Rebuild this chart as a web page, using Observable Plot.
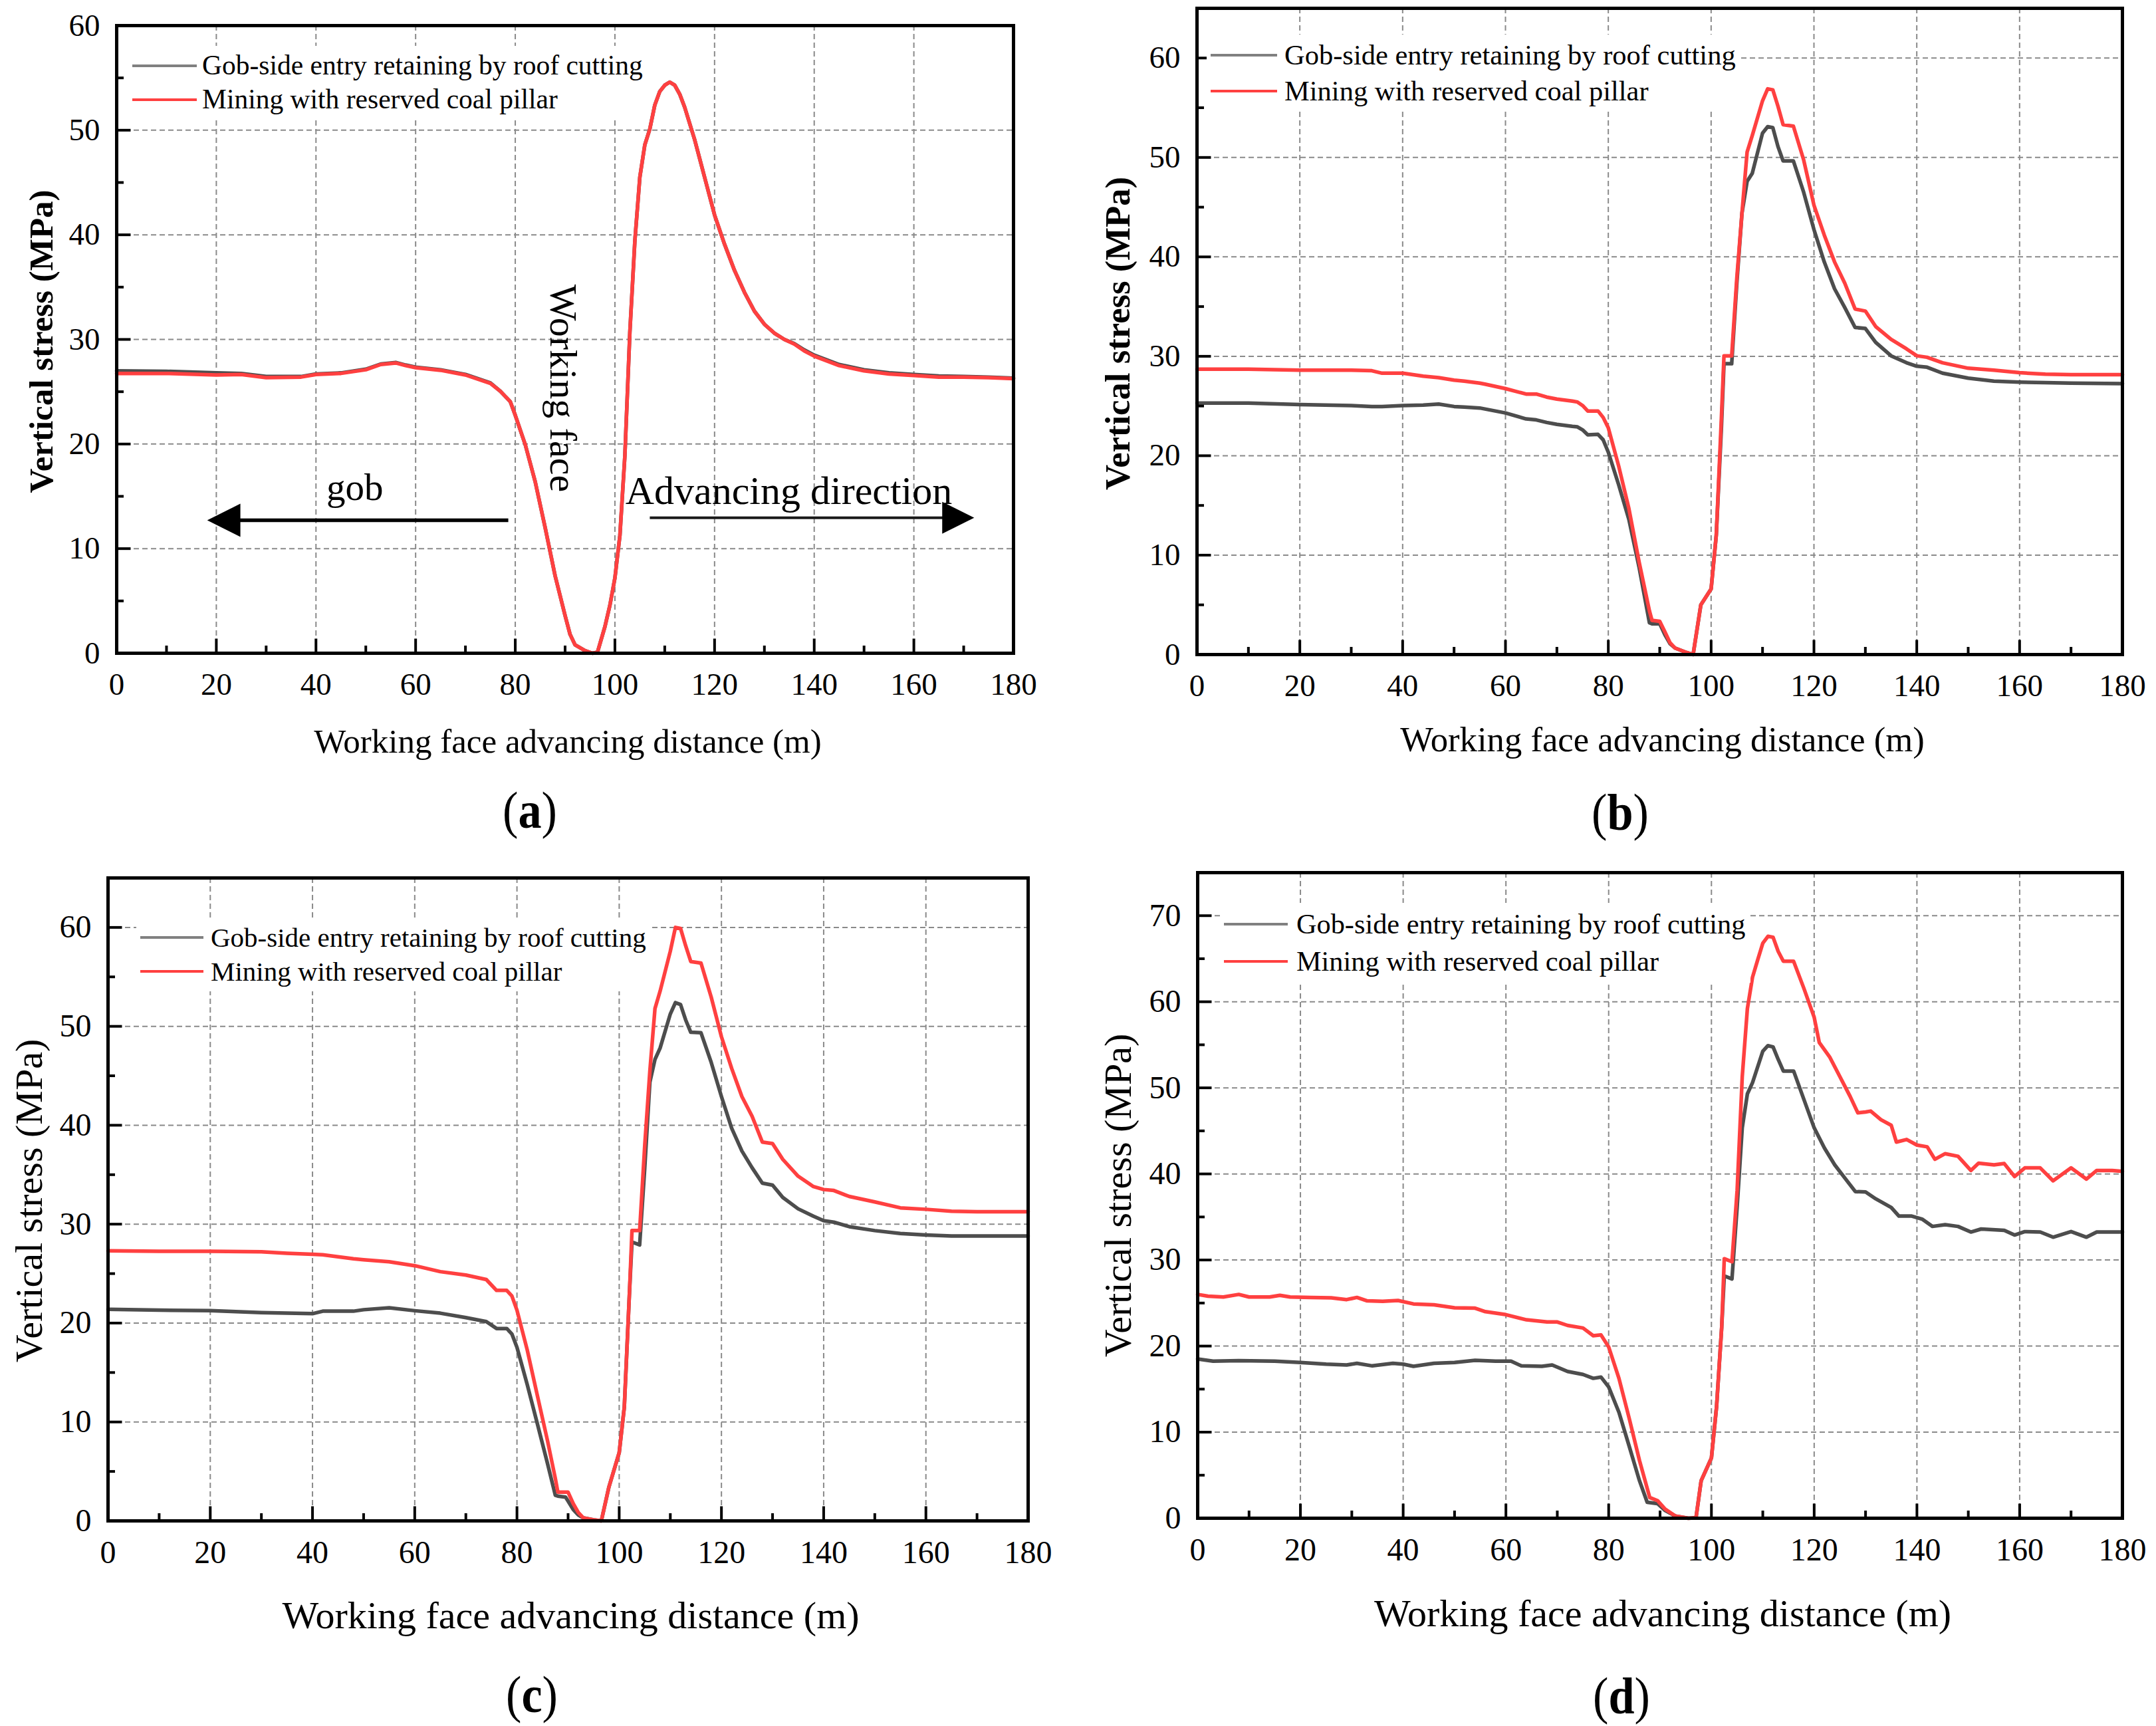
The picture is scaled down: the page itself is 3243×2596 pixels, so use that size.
<!DOCTYPE html>
<html><head><meta charset="utf-8">
<script src="https://cdn.jsdelivr.net/npm/d3@7"></script>
<script src="https://cdn.jsdelivr.net/npm/@observablehq/plot@0.6"></script>
<style>
html,body{margin:0;padding:0;background:#fff;}
#fig{position:relative;width:3243px;height:2596px;overflow:hidden;background:#fff;font-family:"Liberation Serif","Times New Roman",serif;color:#000;}
.panel{position:absolute;}
.legend{position:absolute;background:#fff;padding:4px 8px 4px 6px;}
.row{display:flex;align-items:center;}
.sw{flex:none;}
.lt{line-height:1;white-space:nowrap;}
.plabel{position:absolute;line-height:1;white-space:nowrap;transform:translateX(-50%) scaleX(0.9);}
</style>
</head><body><div id="fig"></div>
<script>
// ---------- shared axis values / texts ----------
const xTickValues = [0,20,40,60,80,100,120,140,160,180];
const xMinorValues = [10,30,50,70,90,110,130,150,170];
const xTitle = "Working face advancing distance (m)";
const yTitle = "Vertical stress (MPa)";
const seriesNames = ["Gob-side entry retaining by roof cutting", "Mining with reserved coal pillar"];
const panelLetters = ["a","b","c","d"];

const yTicksA = [0,10,20,30,40,50,60];
const yTicksB = [0,10,20,30,40,50,60];
const yTicksC = [0,10,20,30,40,50,60];
const yTicksD = [0,10,20,30,40,50,60,70];
const yMinorA = [5,15,25,35,45,55];
const yMinorB = [5,15,25,35,45,55];
const yMinorC = [5,15,25,35,45,55];
const yMinorD = [5,15,25,35,45,55,65];
const yDomainA = [0,60], yDomainB = [0,65], yDomainC = [0,65], yDomainD = [0,75];

// ---------- panel (a) ----------
const aX = [0,10,20,25,30,37,40,45,50,53,56,58,60,65,70,75,77,79,80,82,84,86,88,90,91,92,94,95.5,96.5,98,99,100,101,102,103,104,105,106,107,108,109,110,111,112,113,114,116,118,120,122,124,126,128,130,132,134,136,138,140,145,150,155,160,165,170,175,180];
const aGob = [27.0,26.95,26.8,26.75,26.45,26.45,26.7,26.8,27.15,27.65,27.8,27.55,27.35,27.1,26.65,25.85,25.05,24.05,22.75,19.95,16.4,12.0,7.4,3.6,1.8,0.8,0.25,0,0.1,2.55,4.6,7.2,11.25,18.9,30.7,39.4,45.5,48.6,50.1,52.4,53.7,54.3,54.6,54.3,53.45,52.2,49.1,45.5,41.9,39.1,36.6,34.5,32.7,31.45,30.6,30.0,29.6,29.0,28.5,27.6,27.1,26.8,26.65,26.5,26.45,26.4,26.3];
const aPillar = [26.75,26.75,26.6,26.65,26.35,26.4,26.65,26.75,27.1,27.6,27.75,27.5,27.3,27.05,26.6,25.8,25.05,24.05,22.75,19.95,16.4,12.0,7.4,3.6,1.8,0.8,0.25,0,0.1,2.55,4.6,7.2,11.25,18.9,30.7,39.4,45.5,48.6,50.1,52.4,53.7,54.3,54.6,54.3,53.45,52.2,49.1,45.5,41.9,39.1,36.6,34.5,32.7,31.45,30.6,30.0,29.55,28.9,28.4,27.5,27.0,26.7,26.55,26.4,26.4,26.35,26.25];
// annotations of (a), in data units
const aNoteText = ["Working face","gob","Advancing direction"];
const aNoteX = [89.5, 47.8, 134.9];
const aNoteY = [25.33, 14.64, 14.3];
const aArrowFrom = [78.6, 107.0];
const aArrowTo = [21.5, 168.9];
const aArrowY = [12.71, 12.95];

// ---------- panel (b) ----------
const bX = [0,10,20,30,34,36,40,44,47,50,52,55,56,60,64,66,68,70,73,74,75,76,78,79,80,82,84,86,88,88.5,90,91,92,93,95,96.5,98,100,101,102,102.5,104,105,106,107,108,110,111,112,113,114,116,118,120,122,124,126,128,130,132,135,138,140,142,145,150,155,160,165,170,180];
const bGob = [25.3,25.3,25.15,25.05,24.95,24.95,25.05,25.1,25.2,24.95,24.9,24.8,24.7,24.3,23.7,23.6,23.35,23.15,22.95,22.9,22.6,22.1,22.15,21.6,20.35,17.1,13.6,8.75,3.2,3.1,3.1,2.0,1.1,0.65,0.25,0,5.0,6.6,12.0,22.8,29.25,29.25,37.35,44.4,47.6,48.4,52.45,53.1,53.0,51.1,49.65,49.65,46.5,42.75,39.5,36.8,34.9,32.9,32.8,31.4,30.05,29.35,29.0,28.9,28.3,27.8,27.5,27.4,27.35,27.3,27.25];
const bPillar = [28.7,28.7,28.6,28.6,28.55,28.3,28.3,28.0,27.85,27.6,27.5,27.3,27.2,26.75,26.2,26.2,25.9,25.7,25.5,25.4,25.05,24.5,24.5,23.85,22.8,19.0,14.7,9.3,4.4,3.45,3.35,2.3,1.2,0.65,0.25,0,5.0,6.6,12.0,23.85,30.05,30.05,37.9,44.4,50.55,52.2,55.7,56.9,56.8,55.15,53.3,53.15,49.75,45.2,42.2,39.5,37.35,34.75,34.55,33.0,31.7,30.75,30.05,29.9,29.35,28.8,28.6,28.35,28.2,28.15,28.15];

// ---------- panel (c) ----------
const cX = [0,10,20,30,35,40,42,45,48,50,55,60,65,70,74,76,78,79,80,82,84,86,87.5,88,89.5,90,91,92,93,95,96.5,98,100,101,102,102.5,104,105,106,107,108,110,111,112,113,114,116,118,120,122,124,126,128,130,132,135,138,140,142,145,150,155,160,165,170,180];
const cGob = [21.4,21.3,21.25,21.05,21.0,20.95,21.2,21.2,21.2,21.35,21.55,21.25,21.0,20.55,20.15,19.45,19.45,18.9,17.55,13.8,9.8,5.75,2.6,2.5,2.4,2.0,1.15,0.6,0.3,0.1,0,3.45,6.9,11.5,23.0,28.2,27.9,35.7,44.35,46.65,47.8,51.25,52.4,52.2,50.65,49.4,49.35,46.35,42.9,39.7,37.4,35.7,34.15,33.95,32.7,31.55,30.8,30.35,30.2,29.75,29.35,29.05,28.9,28.8,28.8,28.8];
const cPillar = [27.3,27.25,27.25,27.2,27.05,26.95,26.9,26.7,26.5,26.4,26.2,25.8,25.2,24.85,24.4,23.3,23.3,22.75,21.3,17.3,12.65,8.05,4.3,2.9,2.9,2.9,1.75,0.85,0.3,0.1,0,3.45,6.9,11.5,23.0,29.35,29.35,38.0,45.5,51.8,53.55,57.6,60.0,59.9,58.15,56.55,56.4,52.95,48.95,45.75,42.9,40.9,38.3,38.15,36.55,34.85,33.8,33.5,33.4,32.8,32.25,31.65,31.5,31.3,31.25,31.25];

// ---------- panel (d) ----------
const dGobX = [0,3,8,15,20,25,29,31,34,38,40,42,46,50,54,58,61,63,67,69,72,75,77,78.5,80,82,84,86,87.5,89.5,91,93,95.5,97,98,100,101,102,102.5,104,105,106,107,108,110,111,112,113,114,116,118,120,122,124,126,128,130,132,135,136.5,139,141,143,145.5,148,150.5,152.5,157,159,161,164,166.5,170,173,175,180];
const dGob = [18.5,18.25,18.3,18.25,18.1,17.9,17.8,18.0,17.7,18.0,17.9,17.65,18.0,18.1,18.35,18.25,18.25,17.7,17.65,17.8,17.05,16.7,16.25,16.4,15.25,12.3,8.35,4.35,1.85,1.7,0.9,0.25,0,0.05,4.35,7.0,12.95,22.2,28.15,27.8,36.1,45.35,49.3,50.6,54.25,54.9,54.75,53.3,51.95,51.95,48.65,45.35,43.0,41.05,39.5,37.95,37.9,37.1,36.1,35.1,35.1,34.75,33.9,34.1,33.9,33.25,33.6,33.45,32.9,33.3,33.25,32.65,33.3,32.65,33.25,33.25];
const dPillarX = [0,2,5,8,10,14,16,18,22,26,29,31,33,36,39,42,46,50,54,56,60,64,68,70,72,75,77,78.5,80,82,84,86,88,89.5,91,93,95.5,97,98,100,101,102,102.5,104,105,106,107,108,109,110,111,112,113,114,116,118,120,121,123,125,127,128.5,130,131,133,135,136,138,140,142,143.5,145.5,148,150.5,152,155,157,159,161,164,166.5,170,173,175,178,180];
const dPillar = [26.0,25.8,25.7,26.0,25.7,25.7,25.9,25.7,25.65,25.6,25.4,25.65,25.25,25.2,25.3,24.9,24.8,24.45,24.4,24.0,23.65,23.05,22.8,22.8,22.4,22.1,21.2,21.3,19.9,16.25,11.6,6.7,2.4,2.05,1.05,0.25,0,0.05,4.35,7.0,12.95,22.2,30.15,29.8,38.05,51.3,59.2,62.85,64.85,66.8,67.6,67.5,65.85,64.7,64.7,61.55,58.2,55.25,53.6,51.3,49.0,47.1,47.2,47.3,46.3,45.65,43.7,44.0,43.35,43.15,41.7,42.35,42.05,40.4,41.25,41.05,41.2,39.7,40.7,40.7,39.2,40.7,39.4,40.4,40.4,40.3];

// ---------- styles ----------
const gobColor = "#4d4d4d";
const gobLegendColor = "#808080";
const pillarColor = "#ff4040";
const gridColor = "#8a8a8a";

function triangleSymbol(dir) {
  return {
    draw(context, size) {
      const r = Math.sqrt(size / Math.PI);
      const L = 1.3 * r, B = 1.3 * r;
      context.moveTo(dir * L, 0);
      context.lineTo(-dir * L, -B);
      context.lineTo(-dir * L, B);
      context.closePath();
    }
  };
}

function makePanel(p) {
  const fw = p.w - p.ml - p.mr, fh = p.h - p.mt - p.mb;
  const gobData = p.gobX.map((x, i) => ({x, y: p.gob[i]}));
  const pilData = p.pilX.map((x, i) => ({x, y: p.pil[i]}));
  const yGrid = p.yTicks.filter(v => v > 0 && v < p.yDomain[1]);
  const xGrid = xTickValues.filter(v => v > 0 && v < 180);
  const gridStyle = {stroke: gridColor, strokeOpacity: 1, strokeWidth: 2, strokeDasharray: "8,5"};
  const tickStyle = {stroke: "black", strokeWidth: 4};
  const marks = [
    Plot.gridX(xGrid, gridStyle),
    Plot.gridY(yGrid, gridStyle),
    ...(p.extra || []),
    Plot.line(gobData, {x: "x", y: "y", stroke: gobColor, strokeWidth: 5.5, strokeLinejoin: "round"}),
    Plot.line(pilData, {x: "x", y: "y", stroke: pillarColor, strokeWidth: 5.5, strokeLinejoin: "round"}),
    Plot.ruleX(xTickValues, {x: d => d, insetTop: fh - 21.5, ...tickStyle}),
    Plot.ruleX(xMinorValues, {x: d => d, insetTop: fh - 11, ...tickStyle}),
    Plot.ruleY(p.yTicks, {y: d => d, insetRight: fw - 21.5, ...tickStyle}),
    Plot.ruleY(p.yMinor, {y: d => d, insetRight: fw - 11, ...tickStyle}),
    Plot.axisX({ticks: xTickValues, tickSize: 0, tickPadding: 29, fontSize: p.tickFont, label: null}),
    Plot.axisY({ticks: p.yTicks, tickSize: 0, tickPadding: 25, fontSize: p.tickFont, label: null}),
    Plot.frame({stroke: "black", strokeWidth: 5}),
    Plot.text([xTitle], {frameAnchor: "bottom", text: d => d, textAnchor: "middle", dx: 4, dy: p.xtDy, fontSize: p.xtFont, lineAnchor: "middle"}),
    Plot.text([yTitle], {frameAnchor: "left", text: d => d, textAnchor: "middle", rotate: -90, dx: p.ytDx, dy: p.ytDy, fontSize: p.ytFont, fontWeight: p.ytWeight, lineAnchor: "middle"})
  ];
  return Plot.plot({
    width: p.w, height: p.h,
    marginLeft: p.ml, marginRight: p.mr, marginTop: p.mt, marginBottom: p.mb,
    x: {domain: [0, 180]},
    y: {domain: p.yDomain},
    style: {fontFamily: "'Liberation Serif','Times New Roman',serif", color: "black", background: "transparent", overflow: "visible", maxWidth: "none"},
    marks
  });
}

const extraA = [
  Plot.link([0, 1], {x1: i => aArrowFrom[i], x2: i => aArrowTo[i], y1: i => aArrowY[i], y2: i => aArrowY[i],
    stroke: i => i === 0 ? "#000" : "#1a1a1a", strokeWidth: i => i === 0 ? 5.5 : 4}),
  Plot.dot([0], {x: i => aArrowTo[i], y: i => aArrowY[i], r: 19.2, symbol: triangleSymbol(-1), fill: "black", stroke: "none"}),
  Plot.dot([1], {x: i => aArrowTo[i], y: i => aArrowY[i], r: 18.5, symbol: triangleSymbol(1), fill: "black", stroke: "none"}),
  Plot.text([0], {x: i => aNoteX[i], y: i => aNoteY[i], text: i => aNoteText[i], rotate: 90, fontSize: 58, textAnchor: "middle", lineAnchor: "middle", fill: "black"}),
  Plot.text([1, 2], {x: i => aNoteX[i], y: i => aNoteY[i], text: i => aNoteText[i], fontSize: i => i === 1 ? 57 : 60, textAnchor: "middle", lineAnchor: "bottom", fill: "black"})
];

const panels = [
  {left: 0, top: 0, w: 1620, h: 1298, ml: 175, mr: 96, mt: 38, mb: 316, yDomain: yDomainA, yTicks: yTicksA, yMinor: yMinorA,
   gobX: aX, gob: aGob, pilX: aX, pil: aPillar, tickFont: 47, xtDy: 133, xtFont: 51, ytDx: -113, ytDy: 3, ytFont: 51, ytWeight: "bold", extra: extraA,
   legend: {x1: 199, x2: 296, y1: 98.5, rowH: 51, textX: 304, font: 41.5}, label: {cx: 797, cy: 1225}},
  {left: 1620, top: 0, w: 1623, h: 1298, ml: 180, mr: 51, mt: 12, mb: 314, yDomain: yDomainB, yTicks: yTicksB, yMinor: yMinorB,
   gobX: bX, gob: bGob, pilX: bX, pil: bPillar, tickFont: 47, xtDy: 129, xtFont: 52.7, ytDx: -118, ytDy: 3, ytFont: 52.7, ytWeight: "bold",
   legend: {x1: 1821, x2: 1921, y1: 83, rowH: 54, textX: 1932, font: 42.5}, label: {cx: 2437, cy: 1228}},
  {left: 0, top: 1298, w: 1620, h: 1298, ml: 162, mr: 74, mt: 22, mb: 309, yDomain: yDomainC, yTicks: yTicksC, yMinor: yMinorC,
   gobX: cX, gob: cGob, pilX: cX, pil: cPillar, tickFont: 48, xtDy: 143, xtFont: 58, ytDx: -118, ytDy: 2, ytFont: 58, ytWeight: "normal",
   legend: {x1: 211, x2: 306, y1: 1410, rowH: 51, textX: 317, font: 41}, label: {cx: 800, cy: 2555}},
  {left: 1620, top: 1298, w: 1623, h: 1298, ml: 181, mr: 51, mt: 14, mb: 313, yDomain: yDomainD, yTicks: yTicksD, yMinor: yMinorD,
   gobX: dGobX, gob: dGob, pilX: dPillarX, pil: dPillar, tickFont: 48, xtDy: 144, xtFont: 58, ytDx: -119, ytDy: 0, ytFont: 58, ytWeight: "normal",
   legend: {x1: 1841, x2: 1937, y1: 1390, rowH: 56, textX: 1950, font: 42.3}, label: {cx: 2439, cy: 2557}}
];

const fig = document.getElementById("fig");
panels.forEach((p, k) => {
  const div = document.createElement("div");
  div.className = "panel";
  div.style.left = p.left + "px"; div.style.top = p.top + "px";
  div.style.width = p.w + "px"; div.style.height = p.h + "px";
  div.appendChild(makePanel(p));
  fig.appendChild(div);

  // legend
  const L = p.legend, padL = 6, padT = 4;
  const lg = document.createElement("div");
  lg.className = "legend";
  lg.style.left = (L.x1 - padL) + "px";
  lg.style.top = (L.y1 - L.rowH / 2 - padT) + "px";
  [[gobLegendColor, seriesNames[0]], [pillarColor, seriesNames[1]]].forEach(([col, name]) => {
    const row = document.createElement("div");
    row.className = "row"; row.style.height = L.rowH + "px";
    const sw = document.createElement("div");
    sw.className = "sw";
    sw.style.width = (L.x2 - L.x1) + "px"; sw.style.height = "4px"; sw.style.background = col;
    sw.style.marginRight = (L.textX - L.x2) + "px";
    const t = document.createElement("div");
    t.className = "lt"; t.style.fontSize = L.font + "px"; t.textContent = name;
    row.appendChild(sw); row.appendChild(t);
    lg.appendChild(row);
  });
  fig.appendChild(lg);

  // panel label
  const F = 78;
  const lab = document.createElement("div");
  lab.className = "plabel";
  lab.style.fontSize = F + "px";
  lab.style.left = p.label.cx + "px";
  lab.style.top = (p.label.cy - 0.578 * F) + "px";
  lab.innerHTML = "(<b>" + panelLetters[k] + "</b>)";
  fig.appendChild(lab);
});
</script>
</body></html>
